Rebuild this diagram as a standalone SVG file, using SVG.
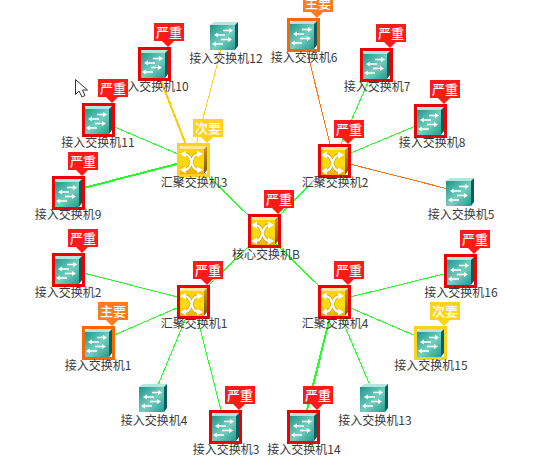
<svg xmlns="http://www.w3.org/2000/svg" width="554" height="456" viewBox="0 0 554 456">
<style>
#connectors line{shape-rendering:crispEdges;fill:none}
.g{stroke:#22ff22;stroke-width:1}
.gb{stroke:#22ff22;stroke-width:2}
.y{stroke:#ffd21f;stroke-width:1}
.yb{stroke:#ffcc00;stroke-width:2}
.o{stroke:#ff7310;stroke-width:1}
.l{font:12px "Noto Sans CJK SC","Liberation Sans",sans-serif;fill:#3a3a3a;text-anchor:middle}
.bt{font:500 13px "Noto Sans CJK SC",sans-serif;fill:#fff;text-anchor:middle}
.b{fill:none;stroke-width:3;shape-rendering:crispEdges}
.br{stroke:#ee0000}.bo{stroke:#f56a00}.by{stroke:#ffd21f}
</style>
<defs>
<linearGradient id="tf" x1="0" y1="0" x2="1" y2="1"><stop offset="0" stop-color="#1c9488"/><stop offset=".55" stop-color="#74cfc0"/><stop offset="1" stop-color="#239a8c"/></linearGradient>
<linearGradient id="yf" x1="0" y1="0" x2="0" y2="1"><stop offset="0" stop-color="#ffd000"/><stop offset=".6" stop-color="#ffdc10"/><stop offset="1" stop-color="#f2aa00"/></linearGradient>
<linearGradient id="ys" x1="0" y1="0" x2="0" y2="1"><stop offset="0" stop-color="#d09a10"/><stop offset="1" stop-color="#7a5500"/></linearGradient>
<g id="sw">
<polygon points="2,6 6,3 30,3 27,6" fill="#b4e6de"/>
<polygon points="27,6 30,3 30,27 27,31" fill="#0b5f5a"/>
<rect x="2" y="6" width="25" height="25" fill="url(#tf)"/>
<path d="M15,11.500H21M9,16H17M13,20.500H20M7,25H15" stroke="#fff" stroke-width="1.500" fill="none"/>
<path d="M21,9L25,11.500L21,14ZM10,13.500L6,16L10,18.500ZM20,18L24,20.500L20,23ZM8,22.500L4,25L8,27.500Z" fill="#fff"/>
</g>
<g id="rt">
<polygon points="2,6 6,3 30,3 27,6" fill="#ffe98a"/>
<polygon points="27,6 30,3 30,27 27,31" fill="url(#ys)"/>
<rect x="2" y="6" width="25" height="25" fill="url(#yf)"/>
<path d="M7,11C17,11 12,27 22,27M7,27C17,27 12,11 22,11" stroke="#8a6400" stroke-width="3.400" fill="none" opacity=".5"/>
<path d="M7,11C17,11 12,27 22,27M7,27C17,27 12,11 22,11" stroke="#fff" stroke-width="2.200" fill="none"/>
<path d="M3,11L9,7.500V14.500ZM3,27L9,23.500V30.500ZM26,11L20,7.500V14.500ZM26,27L20,23.500V30.500Z" fill="#fff"/>
</g>
<path id="bs" d="M16,-24H46V-6H36L30,0L24,-6H16Z"/>
</defs>
<g id="connectors">
<line class="g" x1="264" y1="231" x2="192" y2="160"/>
<line class="g" x1="264" y1="231" x2="334" y2="160"/>
<line class="g" x1="264" y1="231" x2="193" y2="301"/>
<line class="g" x1="264" y1="232" x2="334" y2="301"/>
<line class="y" x1="192" y1="160" x2="225" y2="35"/>
<line class="yb" x1="192" y1="160" x2="154" y2="63"/>
<line class="g" x1="192" y1="160" x2="98" y2="120"/>
<line class="gb" x1="192" y1="160" x2="68" y2="192"/>
<line class="o" x1="334" y1="160" x2="303" y2="35"/>
<line class="g" x1="334" y1="160" x2="376" y2="64"/>
<line class="g" x1="334" y1="160" x2="430" y2="120"/>
<line class="o" x1="334" y1="160" x2="460" y2="192"/>
<line class="g" x1="193" y1="301" x2="68" y2="269"/>
<line class="g" x1="193" y1="301" x2="98" y2="342"/>
<line class="g" x1="193" y1="301" x2="153" y2="397"/>
<line class="g" x1="193" y1="301" x2="225" y2="426"/>
<line class="g" x1="334" y1="301" x2="460" y2="270"/>
<line class="g" x1="334" y1="301" x2="430" y2="342"/>
<line class="g" x1="334" y1="301" x2="375" y2="397"/>
<line class="gb" x1="334" y1="301" x2="303" y2="426"/>
</g>
<g id="n12" transform="translate(208,19)"><use href="#sw"/><text class="l" x="18" y="44">接入交换机12</text></g>
<g id="n10" transform="translate(138,47)"><use href="#sw"/><rect class="b br" x="1.500" y="1.500" width="30" height="31"/><use href="#bs" fill="#ff1a1a"/><text class="bt" x="31" y="-10">严重</text><text class="l" x="14" y="44">接入交换机10</text></g>
<g id="n11" transform="translate(82,103)"><use href="#sw"/><rect class="b br" x="1.500" y="1.500" width="30" height="31"/><use href="#bs" fill="#ff1a1a"/><text class="bt" x="31" y="-10">严重</text><text class="l" x="16" y="44">接入交换机11</text></g>
<g id="n9" transform="translate(52,176)"><use href="#sw"/><rect class="b br" x="1.500" y="1.500" width="30" height="31"/><use href="#bs" fill="#ff1a1a"/><text class="bt" x="31" y="-10">严重</text><text class="l" x="16" y="43">接入交换机9</text></g>
<g id="n2" transform="translate(52,253)"><use href="#sw"/><rect class="b br" x="1.500" y="1.500" width="30" height="31"/><use href="#bs" fill="#ff1a1a"/><text class="bt" x="31" y="-10">严重</text><text class="l" x="16" y="44">接入交换机2</text></g>
<g id="n1" transform="translate(82,326)"><use href="#sw"/><rect class="b bo" x="1.500" y="1.500" width="30" height="31"/><use href="#bs" fill="#ff7b1c"/><text class="bt" x="31" y="-10">主要</text><text class="l" x="16" y="44">接入交换机1</text></g>
<g id="n4" transform="translate(137,381)"><use href="#sw"/><text class="l" x="17" y="44">接入交换机4</text></g>
<g id="n3" transform="translate(209,410)"><use href="#sw"/><rect class="b br" x="1.500" y="1.500" width="30" height="31"/><use href="#bs" fill="#ff1a1a"/><text class="bt" x="31" y="-10">严重</text><text class="l" x="17" y="44">接入交换机3</text></g>
<g id="n14" transform="translate(287,410)"><use href="#sw"/><rect class="b br" x="1.500" y="1.500" width="30" height="31"/><use href="#bs" fill="#ff1a1a"/><text class="bt" x="31" y="-10">严重</text><text class="l" x="17" y="44">接入交换机14</text></g>
<g id="n13" transform="translate(358,381)"><use href="#sw"/><text class="l" x="17" y="44">接入交换机13</text></g>
<g id="n15" transform="translate(414,326)"><use href="#sw"/><rect class="b by" x="1.500" y="1.500" width="30" height="31"/><use href="#bs" fill="#ffd21f"/><text class="bt" x="31" y="-10">次要</text><text class="l" x="17" y="44">接入交换机15</text></g>
<g id="n16" transform="translate(444,254)"><use href="#sw"/><rect class="b br" x="1.500" y="1.500" width="30" height="31"/><use href="#bs" fill="#ff1a1a"/><text class="bt" x="31" y="-10">严重</text><text class="l" x="17" y="43">接入交换机16</text></g>
<g id="n5" transform="translate(444,175)"><use href="#sw"/><text class="l" x="17" y="44">接入交换机5</text></g>
<g id="n8" transform="translate(414,104)"><use href="#sw"/><rect class="b br" x="1.500" y="1.500" width="30" height="31"/><use href="#bs" fill="#ff1a1a"/><text class="bt" x="31" y="-10">严重</text><text class="l" x="18" y="43">接入交换机8</text></g>
<g id="n7" transform="translate(360,48)"><use href="#sw"/><rect class="b br" x="1.500" y="1.500" width="30" height="31"/><use href="#bs" fill="#ff1a1a"/><text class="bt" x="31" y="-10">严重</text><text class="l" x="17" y="43">接入交换机7</text></g>
<g id="n6" transform="translate(287,18)"><use href="#sw"/><rect class="b bo" x="1.500" y="1.500" width="30" height="31"/><use href="#bs" fill="#ff7b1c"/><text class="bt" x="31" y="-10">主要</text><text class="l" x="17" y="44">接入交换机6</text></g>
<g id="a3" transform="translate(177,143)"><use href="#rt"/><rect class="b by" x="1.500" y="1.500" width="30" height="31"/><use href="#bs" fill="#ffd21f"/><text class="bt" x="31" y="-10">次要</text><text class="l" x="17" y="44">汇聚交换机3</text></g>
<g id="a2" transform="translate(318,144)"><use href="#rt"/><rect class="b br" x="1.500" y="1.500" width="30" height="31"/><use href="#bs" fill="#ff1a1a"/><text class="bt" x="31" y="-10">严重</text><text class="l" x="17" y="43">汇聚交换机2</text></g>
<g id="a1" transform="translate(177,285)"><use href="#rt"/><rect class="b br" x="1.500" y="1.500" width="30" height="31"/><use href="#bs" fill="#ff1a1a"/><text class="bt" x="31" y="-10">严重</text><text class="l" x="17" y="43">汇聚交换机1</text></g>
<g id="a4" transform="translate(318,285)"><use href="#rt"/><rect class="b br" x="1.500" y="1.500" width="30" height="31"/><use href="#bs" fill="#ff1a1a"/><text class="bt" x="31" y="-10">严重</text><text class="l" x="17" y="43">汇聚交换机4</text></g>
<g id="core" transform="translate(248,214)"><use href="#rt"/><rect class="b br" x="1.500" y="1.500" width="30" height="31"/><use href="#bs" fill="#ff1a1a"/><text class="bt" x="31" y="-10">严重</text><text class="l" x="18" y="45">核心交换机B</text></g>
<path id="cursor" d="M75.500,79.500V94.500L79,91L82,97L85,95.500L82.500,90H87.500Z" fill="#fff" stroke="#333" stroke-width="1"/>
</svg>
